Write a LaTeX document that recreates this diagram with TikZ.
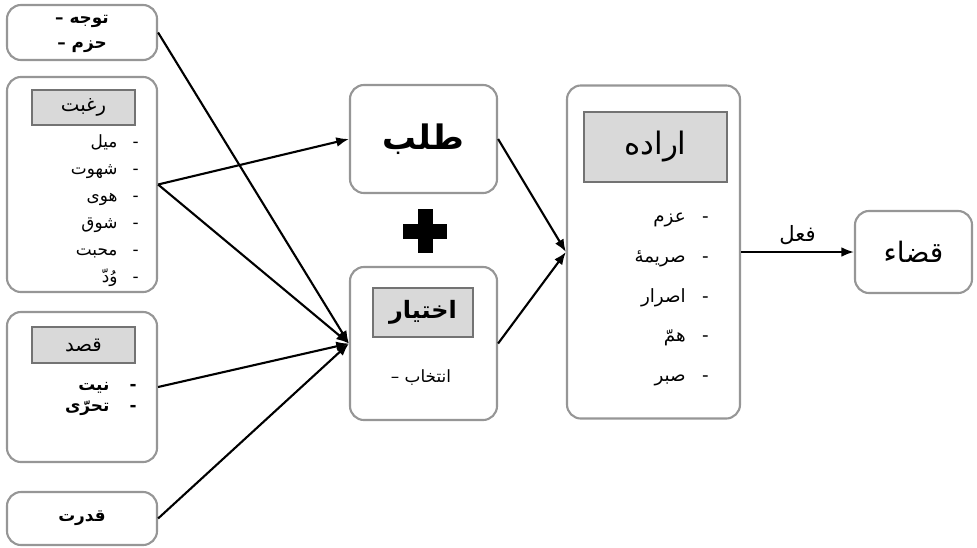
\documentclass[tikz,border=0pt]{standalone}
\usepackage{fontspec}
\newfontfamily\arabicfont[Script=Arabic]{DejaVu Sans}
\TeXXeTstate=1
\usetikzlibrary{arrows.meta,positioning}
\definecolor{cBorder}{RGB}{150,150,150}
\definecolor{cHead}{RGB}{217,217,217}
\definecolor{cHeadLine}{RGB}{115,115,115}
\newcommand{\fa}[1]{\beginR #1\endR}
\tikzset{
  basebox/.style={rectangle,rounded corners=10pt,draw=cBorder,line width=1.5pt,
                  fill=white,align=center,font=\arabicfont},
  headbox/.style={rectangle,draw=cHeadLine,line width=1.2pt,fill=cHead,
                  align=center,font=\arabicfont},
  listtxt/.style={align=right,inner sep=0pt},
  arr/.style={-{Latex[length=9pt,width=7pt]},line width=1.5pt,color=black}
}

\begin{document}
\begin{tikzpicture}[x=0.025cm,y=-0.025cm]
  \useasboundingbox (0,0) rectangle (977,547);

  % left column
  \node[basebox,minimum width=3.75cm,minimum height=1.375cm] (tawajoh) at (82,32.5) {};
  \node[align=center,inner sep=0pt,
        font=\arabicfont\bfseries\fontsize{12}{17.5}\selectfont] (tawajohTxt) at (82,34)
    {\fa{توجه\ –}\\ \fa{حزم\ –}};

  \node[basebox,minimum width=3.75cm,minimum height=5.375cm] (raghbat) at (82,184.5) {};
  \node[headbox,minimum width=2.575cm,minimum height=0.875cm,
        font=\arabicfont\fontsize{14}{16}\selectfont] (raghbatHead) at (83.5,107.5) {\fa{رغبت}};
  \node[listtxt,anchor=east,font=\arabicfont\fontsize{12}{19.1}\selectfont] (raghbatList) at (139,210.5)
    {\fa{-\hspace{0.9em}میل}\\ \fa{-\hspace{0.9em}شهوت}\\ \fa{-\hspace{0.9em}هوی}\\
     \fa{-\hspace{0.9em}شوق}\\ \fa{-\hspace{0.9em}محبت}\\ \fa{-\hspace{0.9em}وُدّ}};

  \node[basebox,minimum width=3.75cm,minimum height=3.75cm] (qasd) at (82,387) {};
  \node[headbox,minimum width=2.575cm,minimum height=0.9cm,
        font=\arabicfont\fontsize{14}{16}\selectfont] (qasdHead) at (83.5,345) {\fa{قصد}};
  \node[listtxt,anchor=east,font=\arabicfont\bfseries\fontsize{12}{15.6}\selectfont] (qasdList) at (137,399)
    {\fa{-\hspace{1.2em}نیت}\\ \fa{-\hspace{1.2em}تحرّی}};

  \node[basebox,minimum width=3.75cm,minimum height=1.325cm,
        font=\arabicfont\bfseries\fontsize{12}{14}\selectfont] (qodrat) at (82,518.5) {\fa{قدرت}};

  % middle column
  \node[basebox,minimum width=3.675cm,minimum height=2.7cm,
        font=\arabicfont\bfseries\fontsize{24}{28}\selectfont] (talab) at (423.5,139) {\fa{طلب}};
  \fill (403,223.5) rectangle (447,238.5);
  \fill (417.5,209) rectangle (432.5,253);

  \node[basebox,minimum width=3.675cm,minimum height=3.825cm] (ekhtiar) at (423.5,343.5) {};
  \node[headbox,minimum width=2.5cm,minimum height=1.225cm,
        font=\arabicfont\bfseries\fontsize{17}{20}\selectfont] (ekhtiarHead) at (423,312.5) {\fa{اختیار}};
  \node[font=\arabicfont\fontsize{12}{14}\selectfont] (entekhab) at (421,378) {\fa{انتخاب\ –}};

  % right column
  \node[basebox,minimum width=4.325cm,minimum height=8.325cm] (erade) at (653.5,252) {};
  \node[headbox,minimum width=3.575cm,minimum height=1.75cm,
        font=\arabicfont\fontsize{22}{26}\selectfont] (eradeHead) at (655.5,147) {\fa{اراده}};
  \node[listtxt,anchor=east,font=\arabicfont\fontsize{13}{28.4}\selectfont] (eradeList) at (709,299.5)
    {\fa{-\hspace{0.9em}عزم}\\ \fa{-\hspace{0.9em}صریمهٔ}\\ \fa{-\hspace{0.9em}اصرار}\\
     \fa{-\hspace{0.9em}همّ}\\ \fa{-\hspace{0.9em}صبر}};

  \node[basebox,minimum width=2.925cm,minimum height=2.05cm,
        font=\arabicfont\fontsize{20}{24}\selectfont] (qaza) at (913.5,252) {\fa{قضاء}};

  % connectors
  \draw[arr] (tawajoh.east) -- (ekhtiar.west);
  \draw[arr] (raghbat.east) -- (talab.west);
  \draw[arr] (raghbat.east) -- (ekhtiar.west);
  \draw[arr] (qasd.east) -- (ekhtiar.west);
  \draw[arr] (qodrat.east) -- (ekhtiar.west);
  \draw[arr] (talab.east) -- (erade.west);
  \draw[arr] (ekhtiar.east) -- (erade.west);
  \draw[arr] (erade.east) -- node[above=1pt,font=\arabicfont\fontsize{15}{18}\selectfont] (fel) {\fa{فعل}} (qaza.west);
\end{tikzpicture}
\end{document}
